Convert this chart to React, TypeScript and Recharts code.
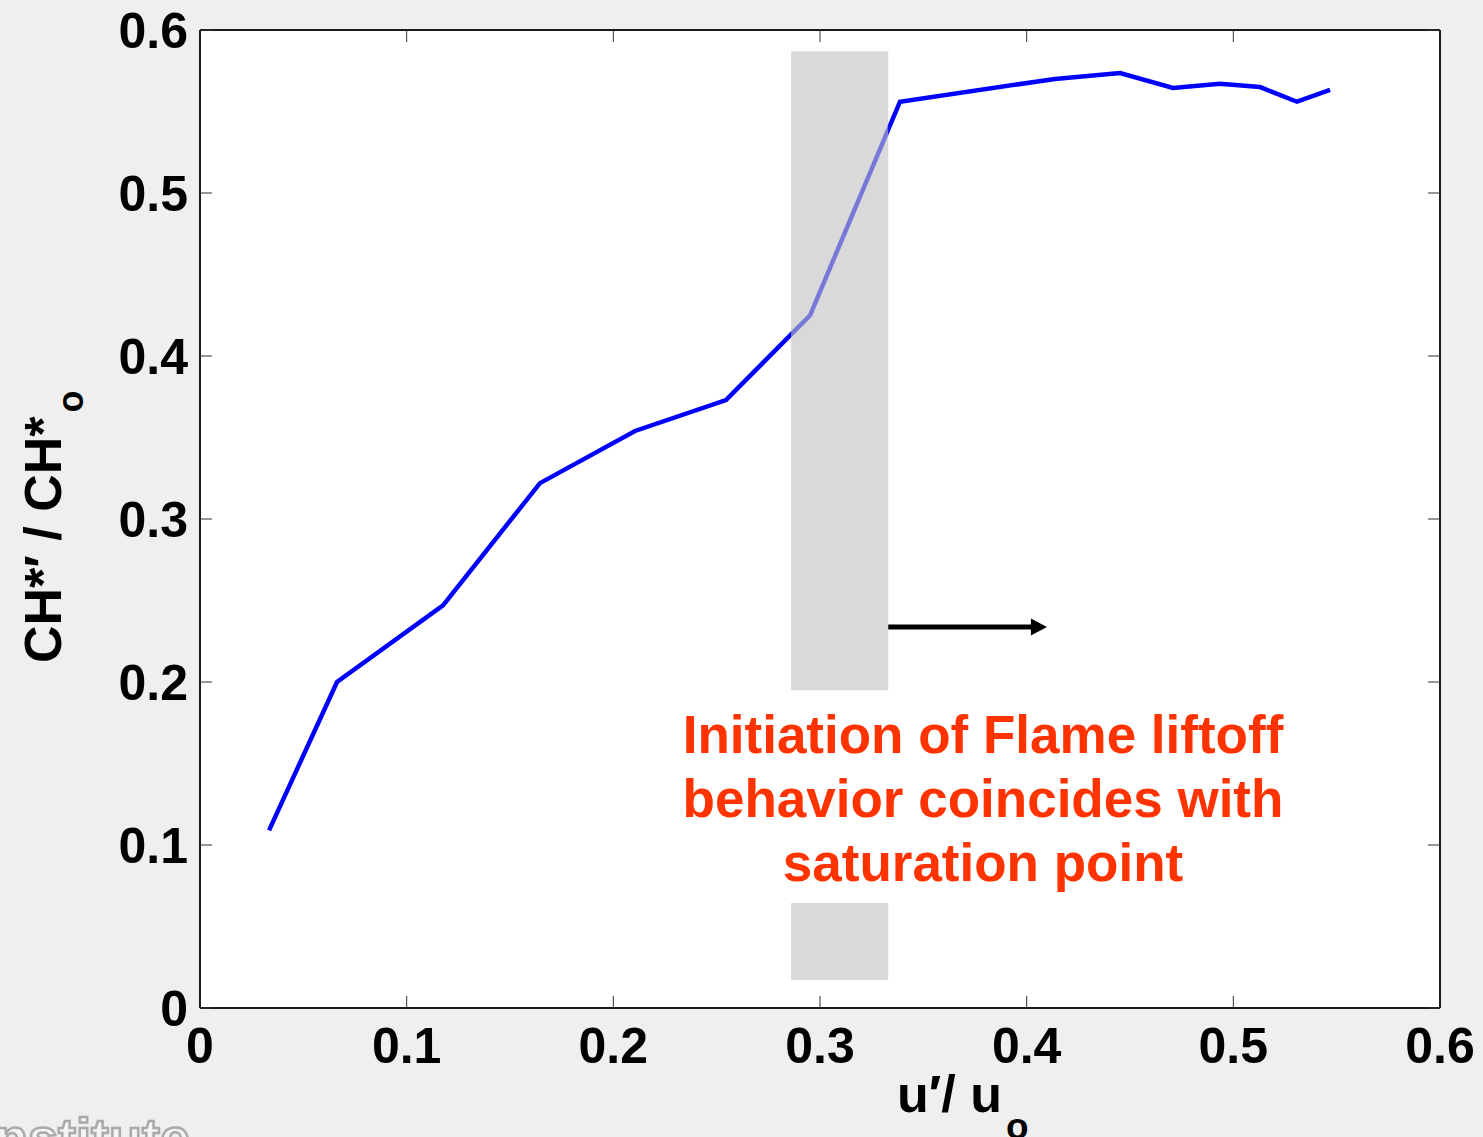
import React from 'react';
import { LineChart, Line, XAxis, YAxis, CartesianGrid, ReferenceArea, Customized } from 'recharts';

const ratioX = [0.0334, 0.0663, 0.1176, 0.1645, 0.2105, 0.2545, 0.2952, 0.3387, 0.4137, 0.4452, 0.4708, 0.4935, 0.5129, 0.5308, 0.5468];
const ratioY = [0.109, 0.2, 0.247, 0.322, 0.354, 0.373, 0.425, 0.556, 0.57, 0.5736, 0.5644, 0.567, 0.565, 0.556, 0.5632];
const axisTicks = [0, 0.1, 0.2, 0.3, 0.4, 0.5, 0.6];
const bandX = [0.286, 0.333];
const bandUpperY = [0.195, 0.587];
const bandLowerY = [0.0172, 0.0644];
const arrowX = [0.333, 0.404];
const arrowY = [0.2337, 0.2337];
const noteLines = ['Initiation of Flame liftoff', 'behavior coincides with', 'saturation point'];

const seriesData = ratioX.map((x, i) => ({ x, y: ratioY[i] }));
const arrowData = arrowX.map((x, i) => ({ x, y: arrowY[i] }));

const FONT = '"Liberation Sans", Arial, Helvetica, sans-serif';

const fmt = (v: number) => (v === 0 ? '0' : String(v));
const blank = () => '';

const ArrowHead = (props: any) => {
  const { cx, cy, index } = props;
  if (index !== 1 || cx == null) return <g key={`a${index}`} />;
  return (
    <polygon
      key={`a${index}`}
      points={`${cx - 4},${cy - 8.5} ${cx + 12},${cy} ${cx - 4},${cy + 8.5}`}
      fill="#000"
    />
  );
};

const Texts = () => (
  <g fontFamily={FONT} fontWeight="bold">
    <text x={-20} y={1156} fontSize={54} fill="#f4f4f4" stroke="#aaaaaa" strokeWidth={2.5}>
      Institute
    </text>
    {noteLines.map((t, i) => (
      <text key={t} x={983} y={753 + i * 64} fontSize={53} fill="#ff3300" textAnchor="middle">
        {t}
      </text>
    ))}
    <text transform="translate(61,663) rotate(-90)" fontSize={52} fill="#000">
      {'CH*\u2032 / CH*'}
      <tspan fontSize={36} dy={22} dx={4}>o</tspan>
    </text>
    <text x={897} y={1112} fontSize={52} fill="#000">
      {'u\u2032/ u'}
      <tspan fontSize={37} dy={27} dx={4}>o</tspan>
    </text>
  </g>
);

const tickStyle = { fontSize: 50, fontWeight: 'bold', fill: '#000', fontFamily: FONT };
const axisLine = { stroke: '#1a1a1a', strokeWidth: 2 };
const tickLine = { stroke: '#333', strokeWidth: 1 };

export default function App() {
  return (
    <div style={{ position: 'absolute', left: 0, top: 0, width: 1483, height: 1137, background: '#eeefee', overflow: 'hidden' }}>
      <LineChart width={1483} height={1137} margin={{ top: 29, right: 42, left: 0, bottom: 0 }}>
        <CartesianGrid fill="#ffffff" horizontal={false} vertical={false} />
        <XAxis
          xAxisId="b"
          dataKey="x"
          type="number"
          domain={[0, 0.6]}
          ticks={axisTicks}
          tickFormatter={fmt}
          height={129}
          tickSize={-12}
          tickMargin={31}
          tick={tickStyle}
          axisLine={axisLine}
          tickLine={tickLine}
          allowDataOverflow
        />
        <XAxis
          xAxisId="t"
          orientation="top"
          dataKey="x"
          type="number"
          domain={[0, 0.6]}
          ticks={axisTicks}
          tickFormatter={blank}
          height={1}
          tickSize={-12}
          axisLine={axisLine}
          tickLine={tickLine}
          allowDataOverflow
        />
        <YAxis
          yAxisId="l"
          dataKey="y"
          type="number"
          domain={[0, 0.6]}
          ticks={axisTicks}
          tickFormatter={fmt}
          width={200}
          tickSize={-12}
          tickMargin={24}
          tick={tickStyle}
          axisLine={axisLine}
          tickLine={tickLine}
          allowDataOverflow
        />
        <YAxis
          yAxisId="r"
          orientation="right"
          dataKey="y"
          type="number"
          domain={[0, 0.6]}
          ticks={axisTicks}
          tickFormatter={blank}
          width={1}
          tickSize={-12}
          axisLine={axisLine}
          tickLine={tickLine}
          allowDataOverflow
        />
        <Line
          xAxisId="b"
          yAxisId="l"
          data={seriesData}
          dataKey="y"
          type="linear"
          stroke="#0000ff"
          strokeWidth={4.5}
          dot={false}
          activeDot={false}
          isAnimationActive={false}
        />
        <ReferenceArea
          xAxisId="b"
          yAxisId="l"
          x1={bandX[0]}
          x2={bandX[1]}
          y1={bandUpperY[0]}
          y2={bandUpperY[1]}
          fill="rgb(193,193,193)"
          fillOpacity={0.62}
          stroke="none"
          zIndex={450}
        />
        <ReferenceArea
          xAxisId="b"
          yAxisId="l"
          x1={bandX[0]}
          x2={bandX[1]}
          y1={bandLowerY[0]}
          y2={bandLowerY[1]}
          fill="rgb(193,193,193)"
          fillOpacity={0.62}
          stroke="none"
          zIndex={450}
        />
        <Line
          xAxisId="b"
          yAxisId="l"
          data={arrowData}
          dataKey="y"
          type="linear"
          stroke="#000"
          strokeWidth={5}
          dot={ArrowHead}
          activeDot={false}
          isAnimationActive={false}
        />
        <Customized component={Texts} />
      </LineChart>
    </div>
  );
}
